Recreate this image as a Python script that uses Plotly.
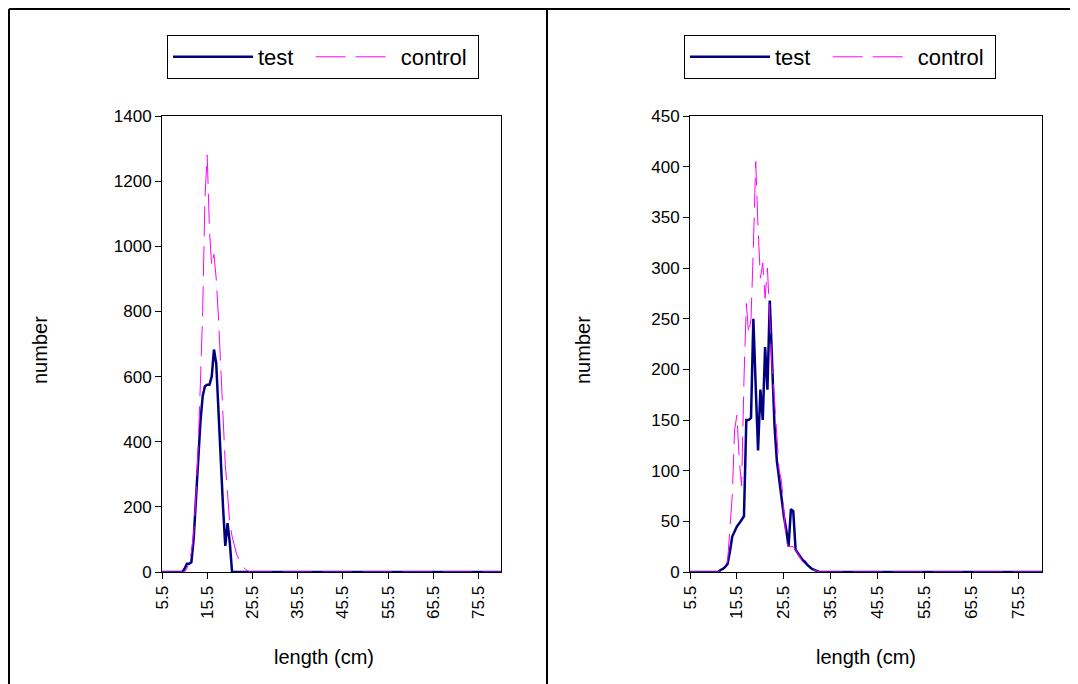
import plotly.graph_objects as go

# length classes (cm); the ends carry the flat zero line to the axis limits
len_left = [5.5, 10.0, 10.5, 11.0, 11.5, 12.0, 12.5, 13.0, 13.5, 14.0, 14.5, 15.0, 15.5,
            16.0, 16.5, 17.0, 17.5, 18.0, 18.5, 19.0, 19.5, 20.0, 20.5, 21.0, 21.5,
            22.0, 22.5, 23.0, 23.5, 24.0, 24.5, 25.0, 80.5]
test_left = [0, 0, 10, 25, 25, 30, 100, 230, 320, 460, 540, 570, 575,
             575, 600, 683, 640, 480, 330, 200, 80, 150, 90, 0, 0,
             0, 0, 0, 0, 0, 0, 0, 0]
control_left = [0, 0, 0, 10, 30, 60, 120, 230, 380, 580, 800, 1150, 1280,
                1050, 940, 975, 900, 780, 640, 500, 330, 240, 150, 110, 80,
                55, 40, 25, 15, 8, 3, 0, 0]

len_right = [5.5, 11.5, 12.0, 12.5, 13.0, 13.5, 14.0, 14.5, 15.0, 15.5, 16.0, 16.5,
             17.0, 17.5, 18.0, 18.5, 19.0, 19.5, 20.0, 20.5, 21.0, 21.5, 22.0, 22.5,
             23.0, 23.5, 24.0, 24.5, 25.0, 25.5, 26.0, 26.5, 27.0, 27.5, 28.0, 28.5,
             29.0, 29.5, 30.0, 30.5, 31.0, 31.5, 32.0, 32.5, 33.0, 33.5, 34.0, 80.5]
test_right = [0, 0, 2, 3, 5, 8, 20, 35, 40, 45, 48, 52,
              55, 150, 150, 152, 250, 183, 120, 180, 150, 222, 180, 268,
              195, 145, 110, 90, 72, 55, 42, 25, 62, 60, 22, 18,
              15, 12, 10, 7, 5, 3, 2, 1, 0, 0, 0, 0]
control_right = [0, 0, 2, 4, 6, 10, 40, 75, 140, 155, 110, 85,
                 190, 265, 235, 250, 320, 405, 340, 290, 305, 270, 300, 250,
                 200, 170, 130, 100, 90, 60, 30, 25, 25, 25, 22, 18,
                 14, 10, 8, 6, 4, 3, 2, 1, 0, 0, 0, 0]

x_ticks = [5.5, 15.5, 25.5, 35.5, 45.5, 55.5, 65.5, 75.5]
x_labels = ["5.5", "15.5", "25.5", "35.5", "45.5", "55.5", "65.5", "75.5"]

W, H = 1078, 684
OFF = 8   # the page body adds an 8px margin around the figure
NAVY = "#000080"
PINK = "#FF00FF"
FONT = "Arial, Liberation Sans, sans-serif"
NB = "\u00a0"   # non-breaking space, used to pad the legend entries


def px(v):
    return (v - OFF) / W


def py(v):
    return 1 - (v - OFF) / H


fig = go.Figure()

for lens, test, ctrl, xa, ya, lg in [
    (len_left, test_left, control_left, "x", "y", "legend"),
    (len_right, test_right, control_right, "x2", "y2", "legend2"),
]:
    fig.add_trace(go.Scatter(x=lens, y=test, mode="lines", name="test" + NB * 2,
                             line=dict(color=NAVY, width=2.5),
                             xaxis=xa, yaxis=ya, legend=lg, cliponaxis=False))
    fig.add_trace(go.Scatter(x=lens, y=ctrl, mode="lines", name="control" + NB,
                             line=dict(color=PINK, width=1, dash="30px,10px"),
                             xaxis=xa, yaxis=ya, legend=lg, cliponaxis=False))

xcommon = dict(range=[5.5, 80.5], tickvals=x_ticks, ticktext=x_labels, tickangle=-90,
               showline=True, linecolor="black", linewidth=1, mirror=True,
               ticks="outside", ticklen=6, tickcolor="black", showgrid=False,
               zeroline=False, layer="below traces", automargin=False,
               tickfont=dict(family=FONT, size=17, color="black"))
ycommon = dict(showline=True, linecolor="black", linewidth=1, mirror=True,
               ticks="outside", ticklen=6, tickcolor="black", showgrid=False,
               zeroline=False, automargin=False,
               tickfont=dict(family=FONT, size=17, color="black"))

legcommon = dict(orientation="h", bordercolor="black", borderwidth=1, bgcolor="white",
                 font=dict(family=FONT, size=22, color="black"), itemwidth=80,
                 xanchor="left", yanchor="top")

fig.update_layout(
    width=W, height=H,
    margin=dict(l=0, r=0, t=0, b=0, pad=0, autoexpand=False),
    paper_bgcolor="white", plot_bgcolor="white",
    xaxis=dict(domain=[px(162), px(501)], anchor="y", **xcommon),
    yaxis=dict(domain=[py(572), py(116)], anchor="x", range=[0, 1400], dtick=200, **ycommon),
    xaxis2=dict(domain=[px(690), px(1042)], anchor="y2", **xcommon),
    yaxis2=dict(domain=[py(572), py(116)], anchor="x2", range=[0, 450], dtick=50, **ycommon),
    legend=dict(x=px(167), y=py(35), **legcommon),
    legend2=dict(x=px(684), y=py(35), **legcommon),
    showlegend=True,
)

# axis titles
for text, x, y, ang in [("number", 40, 350, -90), ("length (cm)", 324, 657, 0),
                        ("number", 583, 350, -90), ("length (cm)", 866, 657, 0)]:
    fig.add_annotation(text=text, x=px(x), y=py(y), xref="paper", yref="paper",
                       xanchor="center", yanchor="middle",
                       showarrow=False, textangle=ang,
                       font=dict(family=FONT, size=20, color="black"))

# chart area borders
border = dict(color="black", width=2)
fig.add_shape(type="line", xref="paper", yref="paper", x0=px(9), x1=1, y0=py(9), y1=py(9), line=border)
fig.add_shape(type="line", xref="paper", yref="paper", x0=px(9), x1=px(9), y0=py(9), y1=-0.05, line=border)
fig.add_shape(type="line", xref="paper", yref="paper", x0=px(547), x1=px(547), y0=py(9), y1=-0.05, line=border)

fig.write_html("out.html")
